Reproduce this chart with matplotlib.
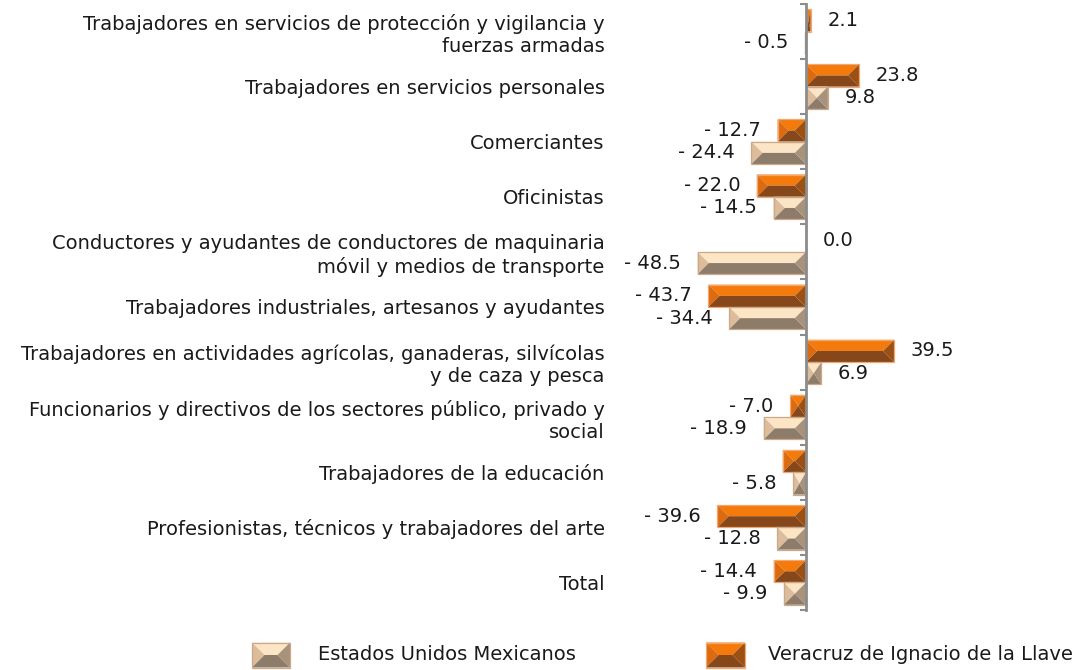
import matplotlib
matplotlib.use("Agg")
import matplotlib.pyplot as plt
from matplotlib.patches import Polygon

plt.rcParams['font.family'] = ['DejaVu Sans']

categorias = [
    "Trabajadores en servicios de protección y vigilancia y\nfuerzas armadas",
    "Trabajadores en servicios personales",
    "Comerciantes",
    "Oficinistas",
    "Conductores y ayudantes de conductores de maquinaria\nmóvil y medios de transporte",
    "Trabajadores industriales, artesanos y ayudantes",
    "Trabajadores en actividades agrícolas, ganaderas, silvícolas\ny de caza y pesca",
    "Funcionarios y directivos de los sectores público, privado y\nsocial",
    "Trabajadores de la educación",
    "Profesionistas, técnicos y trabajadores del arte",
    "Total",
]
nacional = [-0.5, 9.8, -24.4, -14.5, -48.5, -34.4, 6.9, -18.9, -5.8, -12.8, -9.9]
veracruz = [2.1, 23.8, -12.7, -22.0, 0.0, -43.7, 39.5, -7.0, -10.4, -39.6, -14.4]
veracruz_sin_etiqueta = [8]   # la barra de educacion no lleva etiqueta

serie_nac = "Estados Unidos Mexicanos"
serie_ver = "Veracruz de Ignacio de la Llave"

# caras: arriba, izquierda, abajo, derecha, borde
col_tan = ['#fce5c5', '#dcbc9a', '#8e7c6a', '#a8927c', '#caa98a']
col_nar = ['#f57a0c', '#dc6a0e', '#86471a', '#9c5014', '#f0a870']

W, H = 1081, 670
fig = plt.figure(figsize=(W / 100, H / 100), dpi=100)

xmin, xmax = -60, 60
ax_l, ax_w = 671.9, 268.2
ax_top, ax_bot = 4, 610
ax = fig.add_axes([ax_l / W, 1 - ax_bot / H, ax_w / W, (ax_bot - ax_top) / H])
n = len(categorias)
ax.set_xlim(xmin, xmax)
ax.set_ylim(n - 0.5, -0.5)

pxx = ax_w / (xmax - xmin)          # px por unidad x
pxy = (ax_bot - ax_top) / n         # px por unidad y


def bisel(a, x0, x1, yc, h, cols, sx, sy):
    # barra con aspecto de pirámide: cuatro caras
    if x1 < x0:
        x0, x1 = x1, x0
    w = x1 - x0
    d = min(h * sy / 2 / sx, w / 2)
    yt, yb = yc - h / 2, yc + h / 2   # yt arriba en pantalla
    xl, xr = x0 + d, x1 - d
    caras = [
        [(x0, yt), (x1, yt), (xr, yc), (xl, yc)],
        [(x0, yt), (x0, yb), (xl, yc)],
        [(x0, yb), (x1, yb), (xr, yc), (xl, yc)],
        [(x1, yt), (x1, yb), (xr, yc)],
    ]
    for c, pts in zip(cols[:4], caras):
        a.add_patch(Polygon(pts, closed=True, facecolor=c, edgecolor='none', zorder=3))
    a.add_patch(Polygon([(x0, yt), (x1, yt), (x1, yb), (x0, yb)], closed=True,
                        facecolor='none', edgecolor=cols[4], lw=0.9, zorder=4))


def etiqueta(v):
    return f"- {abs(v):.1f}" if v < 0 else f"{v:.1f}"


bh = 0.405
for i in range(n):
    yv = i - bh / 2
    yn = i + bh / 2
    bisel(ax, 0, veracruz[i], yv, bh, col_nar, pxx, pxy)
    bisel(ax, 0, nacional[i], yn, bh, col_tan, pxx, pxy)
    for v, y, skip in [(veracruz[i], yv, i in veracruz_sin_etiqueta), (nacional[i], yn, False)]:
        if skip:
            continue
        off = -12 if v < 0 else 12
        ax.annotate(etiqueta(v), (v, y), xytext=(off, 0), textcoords='offset points',
                    ha='right' if v < 0 else 'left', va='center', fontsize=14, color='#1a1a1a')

for s in ['top', 'right', 'bottom']:
    ax.spines[s].set_visible(False)
ax.spines['left'].set_position(('data', 0))
ax.spines['left'].set_color('#8c8c8c')
ax.spines['left'].set_linewidth(2)
ax.spines['left'].set_zorder(5)
ax.set_xticks([])
ax.set_yticks(range(n))
ax.set_yticklabels(categorias, fontsize=14, color='#1a1a1a', linespacing=1.2)
ax.set_yticks([k - 0.5 for k in range(n + 1)], minor=True)
ax.tick_params(axis='y', which='major', length=0, pad=145)
ax.tick_params(axis='y', which='minor', length=4, width=1.5, color='#8c8c8c', direction='out')
ax.patch.set_alpha(0)

# leyenda dibujada en pixeles
lg = fig.add_axes([0, 0, 1, 1], zorder=-1)
lg.set_xlim(0, W)
lg.set_ylim(H, 0)
lg.axis('off')
bisel(lg, 252, 290, 655, 25, col_tan, 1, 1)
lg.text(318, 654, serie_nac, fontsize=14, va='center', ha='left', color='#1a1a1a')
bisel(lg, 706, 745, 655, 25, col_nar, 1, 1)
lg.text(768, 654, serie_ver, fontsize=14, va='center', ha='left', color='#1a1a1a')

fig.savefig("out.png", dpi=100)
